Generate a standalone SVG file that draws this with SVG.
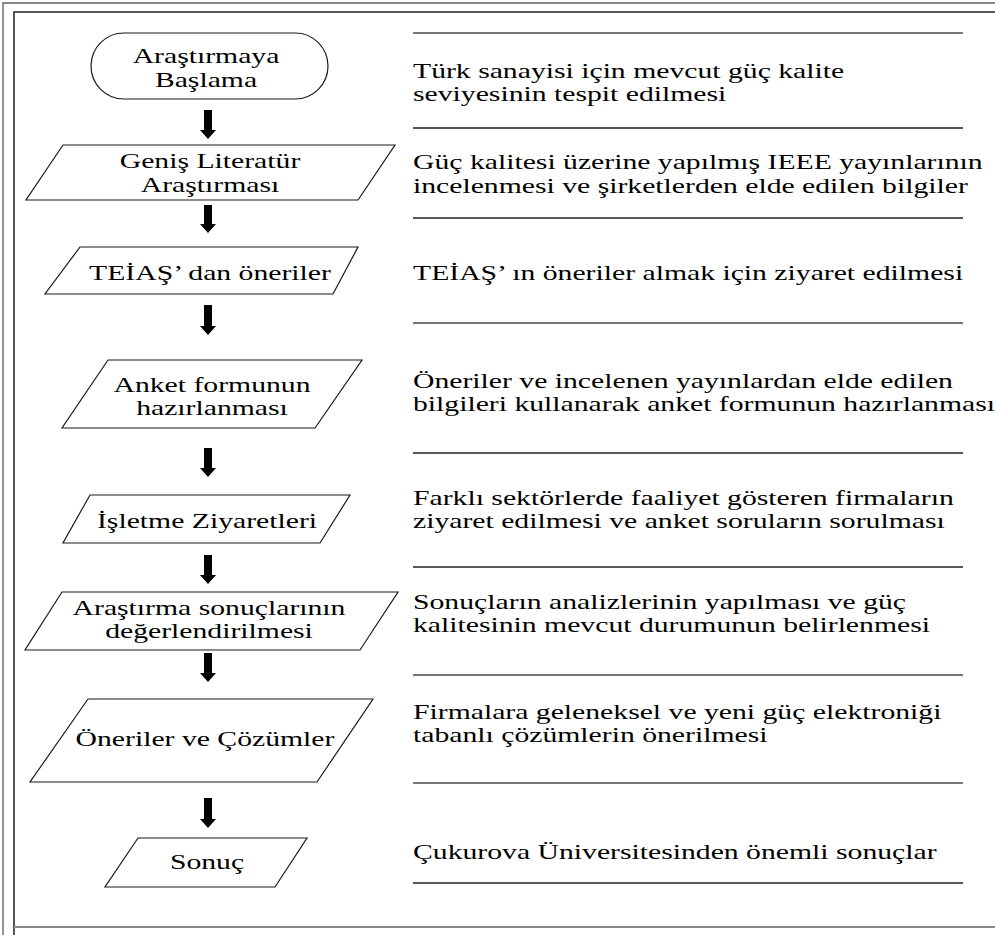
<svg xmlns="http://www.w3.org/2000/svg" width="995" height="935" viewBox="0 0 995 935">
<style>
  .t { font-family: "Liberation Serif", "Times New Roman", serif; font-size: 22px; fill: #000; }
  .c { text-anchor: middle; }
  .shape { fill: #fff; stroke: #1a1a1a; stroke-width: 1.2; }
  .sepd { stroke: #222; stroke-width: 1.5; }
  .sepg { stroke: #777; stroke-width: 1.8; }
  .fg { stroke: #888; stroke-width: 1.8; fill: none; }
  .fd { stroke: #222; stroke-width: 1.5; fill: none; }
  .arr { fill: #000; }
</style>
<rect x="0" y="0" width="995" height="935" fill="#fff"/>
<g id="frame">
  <path class="fg" d="M3,935 V3 H995"/>
  <path class="fd" d="M14,935 V12 H995"/>
  <path class="fg" d="M14,927 H995"/>
</g>
<g id="separators">
  <line class="sepg" x1="413" y1="33" x2="963" y2="33"/>
  <line class="sepd" x1="413" y1="128" x2="963" y2="128"/>
  <line class="sepd" x1="413" y1="218" x2="963" y2="218"/>
  <line class="sepg" x1="413" y1="323" x2="963" y2="323"/>
  <line class="sepd" x1="413" y1="453" x2="963" y2="453"/>
  <line class="sepd" x1="413" y1="567" x2="963" y2="567"/>
  <line class="sepg" x1="413" y1="675" x2="963" y2="675"/>
  <line class="sepg" x1="413" y1="783" x2="963" y2="783"/>
  <line class="sepd" x1="413" y1="883" x2="963" y2="883"/>
</g>
<g id="connectors">
  <path class="arr" d="M204,110 H212 V130 H216 L208,139 L200,130 H204 Z"/>
  <path class="arr" d="M204,205 H212 V224 H216 L208,233 L200,224 H204 Z"/>
  <path class="arr" d="M204,305 H212 V326 H216 L208,335 L200,326 H204 Z"/>
  <path class="arr" d="M204,448 H212 V468 H216 L208,477 L200,468 H204 Z"/>
  <path class="arr" d="M204,555 H212 V575 H216 L208,584 L200,575 H204 Z"/>
  <path class="arr" d="M204,653 H212 V673 H216 L208,682 L200,673 H204 Z"/>
  <path class="arr" d="M204,798 H212 V819 H216 L208,828 L200,819 H204 Z"/>
</g>
<g id="n1">
  <rect class="shape" x="91" y="33" width="237" height="66" rx="33" ry="33"/>
  <text class="t c" transform="translate(206,0) scale(1.35,1)"><tspan x="0" y="63">Araştırmaya</tspan><tspan x="0" y="87">Başlama</tspan></text>
</g>
<g id="n2">
  <polygon class="shape" points="63,145 395,145 358,200 26,200"/>
  <text class="t c" transform="translate(210,0) scale(1.35,1)"><tspan x="0" y="168">Geniş Literatür</tspan><tspan x="0" y="192">Araştırması</tspan></text>
</g>
<g id="n3">
  <polygon class="shape" points="80,247 358,247 333,294 45,294"/>
  <text class="t c" transform="translate(210,280) scale(1.35,1)">TEİAŞ’ dan öneriler</text>
</g>
<g id="n4">
  <polygon class="shape" points="108,360 362,360 315,428 62,428"/>
  <text class="t c" transform="translate(212,0) scale(1.35,1)"><tspan x="0" y="392">Anket formunun</tspan><tspan x="0" y="415">hazırlanması</tspan></text>
</g>
<g id="n5">
  <polygon class="shape" points="90,495 350,495 320,543 63,543"/>
  <text class="t c" transform="translate(207,528) scale(1.35,1)">İşletme Ziyaretleri</text>
</g>
<g id="n6">
  <polygon class="shape" points="62,592 398,592 360,650 25,650"/>
  <text class="t c" transform="translate(209,0) scale(1.35,1)"><tspan x="0" y="615">Araştırma sonuçlarının</tspan><tspan x="0" y="638">değerlendirilmesi</tspan></text>
</g>
<g id="n7">
  <polygon class="shape" points="88,699 373,699 317,782 30,782"/>
  <text class="t c" transform="translate(205,746) scale(1.35,1)">Öneriler ve Çözümler</text>
</g>
<g id="n8">
  <polygon class="shape" points="138,838 307,838 275,887 105,887"/>
  <text class="t c" transform="translate(207,869) scale(1.35,1)">Sonuç</text>
</g>
<g id="descriptions">
  <text class="t" transform="translate(413,0) scale(1.35,1)"><tspan x="0" y="78">Türk sanayisi için mevcut güç kalite</tspan><tspan x="0" y="101">seviyesinin tespit edilmesi</tspan></text>
  <text class="t" transform="translate(413,0) scale(1.35,1)"><tspan x="0" y="169">Güç kalitesi üzerine yapılmış IEEE yayınlarının</tspan><tspan x="0" y="193">incelenmesi ve şirketlerden elde edilen bilgiler</tspan></text>
  <text class="t" transform="translate(413,280) scale(1.35,1)">TEİAŞ’ ın öneriler almak için ziyaret edilmesi</text>
  <text class="t" transform="translate(413,0) scale(1.35,1)"><tspan x="0" y="388">Öneriler ve incelenen yayınlardan elde edilen</tspan><tspan x="0" y="411">bilgileri kullanarak anket formunun hazırlanması</tspan></text>
  <text class="t" transform="translate(413,0) scale(1.35,1)"><tspan x="0" y="505">Farklı sektörlerde faaliyet gösteren firmaların</tspan><tspan x="0" y="528">ziyaret edilmesi ve anket soruların sorulması</tspan></text>
  <text class="t" transform="translate(413,0) scale(1.35,1)"><tspan x="0" y="609">Sonuçların analizlerinin yapılması ve güç</tspan><tspan x="0" y="632">kalitesinin mevcut durumunun belirlenmesi</tspan></text>
  <text class="t" transform="translate(413,0) scale(1.35,1)"><tspan x="0" y="719">Firmalara geleneksel ve yeni güç elektroniği</tspan><tspan x="0" y="742">tabanlı çözümlerin önerilmesi</tspan></text>
  <text class="t" transform="translate(413,859) scale(1.35,1)">Çukurova Üniversitesinden önemli sonuçlar</text>
</g>
</svg>
